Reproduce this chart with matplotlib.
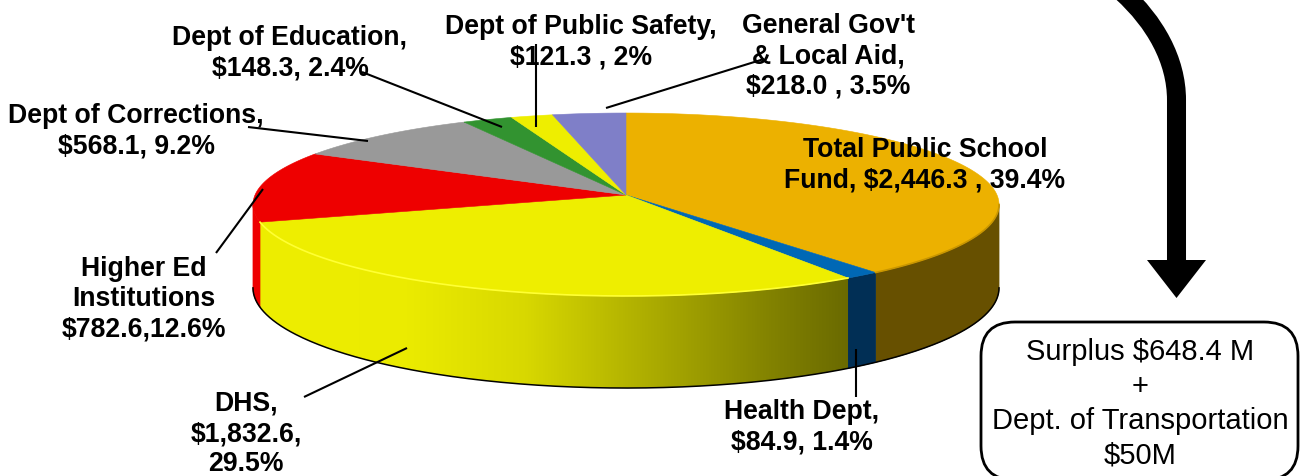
import numpy as np
import matplotlib
matplotlib.use('Agg')
import matplotlib.pyplot as plt
from matplotlib.colors import LinearSegmentedColormap
from matplotlib.patches import Polygon, PathPatch, FancyBboxPatch
from matplotlib.path import Path

plt.rcParams['font.family'] = ['Liberation Sans', 'DejaVu Sans']

# clockwise from 12 o'clock
departments = ['Total Public School', 'Health Dept', 'DHS', 'Higher Ed Institutions',
               'Dept of Corrections', 'Dept of Education', 'Dept of Public Safety', 'General Gov']
dollars = [2446.3, 84.9, 1832.6, 782.6, 568.1, 148.3, 121.3, 218.0]
percents = [39.4, 1.4, 29.5, 12.6, 9.2, 2.4, 2.0, 3.5]
labels = ['Total Public School\nFund, $2,446.3 , 39.4%',
          'Health Dept,\n$84.9, 1.4%',
          'DHS,\n$1,832.6,\n29.5%',
          'Higher Ed\nInstitutions\n$782.6,12.6%',
          'Dept of Corrections,\n$568.1, 9.2%',
          'Dept of Education,\n$148.3, 2.4%',
          'Dept of Public Safety,\n$121.3 , 2%',
          "General Gov't\n& Local Aid,\n$218.0 , 3.5%"]
box_text = 'Surplus $648.4 M\n+\nDept. of Transportation\n$50M'

top_colors = ['#ecb100', '#0068b5', '#eeee00', '#ee0000', '#999999', '#329330', '#eeee00', '#7f7fc8']
side_colors = ['#675000', '#012f55', '#eeee00', '#ee0000', '#777777', '#206020', '#aaaa00', '#5f5fa0']
label_pos = [(925, 165), (802, 427), (246, 434), (144, 299), (136, 131), (290, 53), (581, 42), (828, 56)]
leaders = [((856, 349), (856, 397)),
           ((407, 348), (304, 397)),
           ((263, 189), (216, 253)),
           ((368, 141), (248, 127)),
           ((502, 127), (362, 72)),
           ((536, 127), (536, 44)),
           ((606, 108), (764, 59))]

# perspective of the pie, in pixels
CX, CY = 626, 195
RX, RY = 371, 90.5
TILT = 0.1038
DEPTH = 82.5
# the wall only shows between the two silhouette points of the ellipse
WALL_FROM = np.pi - np.arccos(TILT)
WALL_TO = np.pi + np.arccos(TILT)


def project(theta, drop=0.0):
    u, v = np.sin(theta), np.cos(theta)
    w = 1 + TILT * v
    return CX + RX * u / w, CY + (-RY * v + drop) / w


fig = plt.figure(figsize=(13.06, 4.76), dpi=100)
ax = fig.add_axes([0, 0, 1, 1])

edges = np.radians(np.concatenate([[0], np.cumsum(percents)]) * 3.6)
spans = list(zip(edges[:-1], edges[1:]))

# side walls first
yellow_shade = LinearSegmentedColormap.from_list('shade', [
    (0.0, '#eeee00'), (0.25, '#ebeb00'), (0.45, '#d8d800'), (0.65, '#afaf00'),
    (0.88, '#808000'), (1.0, '#6a6a00')])
for i, (a, b) in enumerate(spans):
    a, b = max(a, WALL_FROM), min(b, WALL_TO)
    if b <= a:
        continue
    t = np.linspace(a, b, 200)
    xt, yt = project(t)
    xb, yb = project(t, DEPTH)
    pts = np.vstack([np.column_stack([xt, yt]), np.column_stack([xb, yb])[::-1]])
    wall = Polygon(pts, closed=True, fc=side_colors[i], ec=side_colors[i], lw=0.5, zorder=2)
    ax.add_patch(wall)
    if departments[i] == 'DHS':
        wall.set_facecolor('none')
        wall.set_edgecolor('none')
        img = ax.imshow(np.linspace(0, 1, 256)[None, :], cmap=yellow_shade, aspect='auto', zorder=2,
                        extent=(pts[:, 0].min(), pts[:, 0].max(), pts[:, 1].max(), pts[:, 1].min()))
        img.set_clip_path(wall)

# black line along the bottom of the wall
xb, yb = project(np.linspace(WALL_FROM, WALL_TO, 400), DEPTH)
ax.plot(xb, yb, color='black', lw=1.1, zorder=2.5)

# top face
for i, (a, b) in enumerate(spans):
    t = np.linspace(a, b, 200)
    xt, yt = project(t)
    pts = np.vstack([[CX, CY], np.column_stack([xt, yt])])
    ax.add_patch(Polygon(pts, closed=True, fc=top_colors[i], ec=top_colors[i], lw=0.4, zorder=3))

# light rim where the top meets the front wall
xr, yr = project(np.linspace(spans[2][0], spans[2][1], 200))
ax.plot(xr, yr, color='#ffff33', lw=1.2, zorder=3.5)
xr, yr = project(np.linspace(WALL_FROM, spans[0][1], 100))
ax.plot(xr, yr, color='#c99600', lw=1.2, zorder=3.5)

for start, end in leaders:
    ax.plot([start[0], end[0]], [start[1], end[1]], color='black', lw=1.5, zorder=4,
            solid_capstyle='butt')

for text, (x, y) in zip(labels, label_pos):
    ax.text(x, y, text, ha='center', va='center', fontsize=19.2, fontweight='bold',
            color='black', linespacing=1.22, zorder=5)

# big arrow down to the box
curve = Path([(1122, -8), (1155, 22), (1176.5, 60), (1176.5, 100), (1176.5, 262)],
             [Path.MOVETO, Path.CURVE4, Path.CURVE4, Path.CURVE4, Path.LINETO])
ax.add_patch(PathPatch(curve, fc='none', ec='black', lw=13.7, capstyle='butt', zorder=4))
ax.add_patch(Polygon([(1147, 260), (1206, 260), (1176.5, 298)], closed=True, fc='black', ec='none', zorder=4))

box = FancyBboxPatch((981, 322), 317, 158, boxstyle='round,pad=0,rounding_size=34',
                     fc='white', ec='black', lw=2.0, zorder=4)
ax.add_patch(box)
ax.text(1140, 404, box_text, ha='center', va='center', fontsize=21, color='black',
        linespacing=1.3, zorder=5)

ax.set_xlim(0, 1306)
ax.set_ylim(476, 0)
ax.axis('off')

fig.savefig('out.png', dpi=100)
